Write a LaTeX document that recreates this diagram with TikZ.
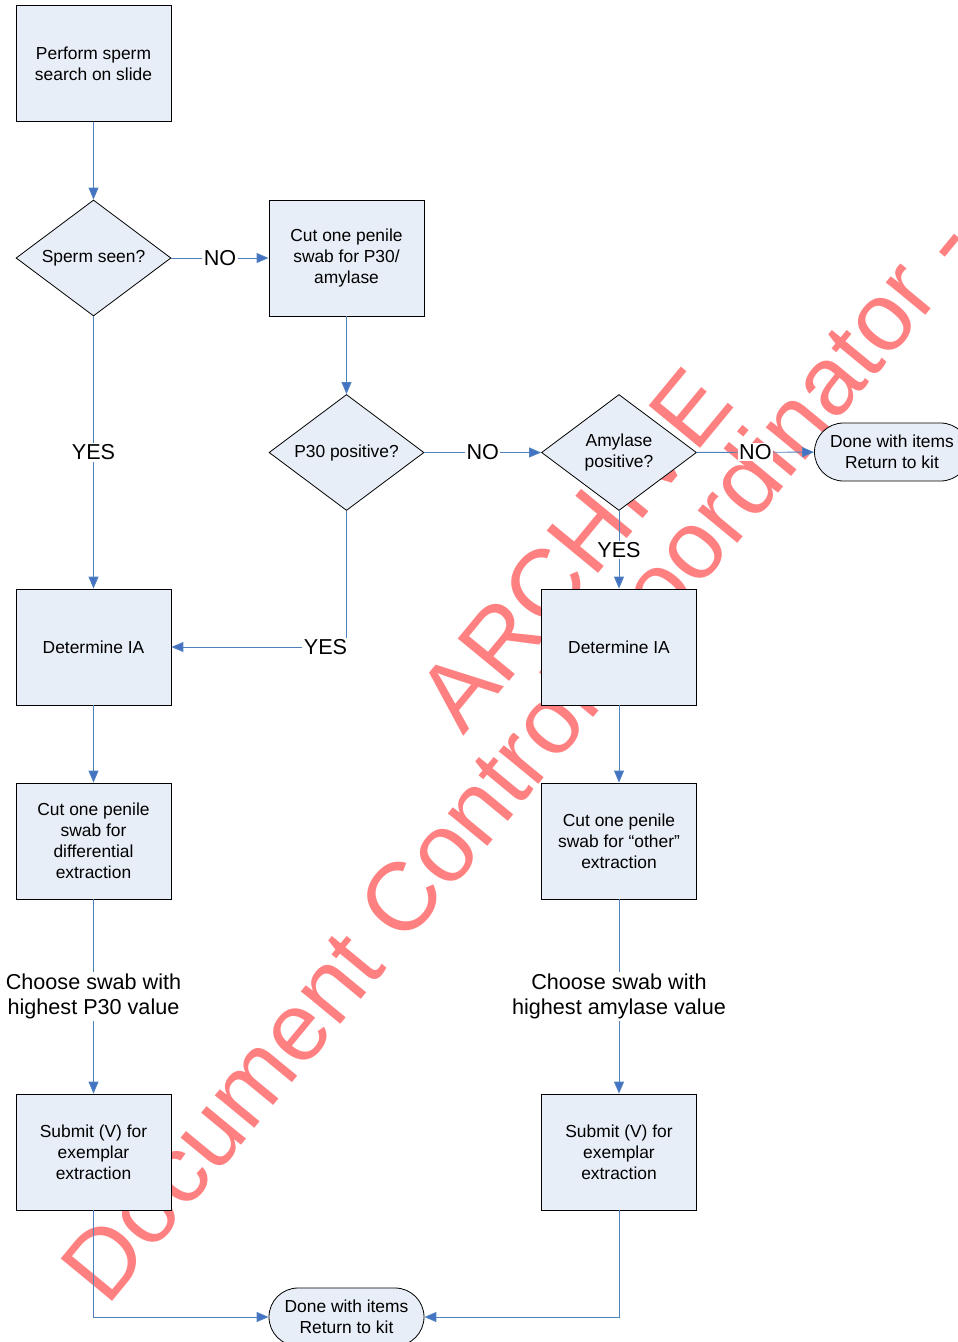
\documentclass[tikz,border=0pt]{standalone}
\usepackage{fontspec}
\setmainfont{Liberation Sans}
\usetikzlibrary{shapes.geometric,arrows.meta}
\definecolor{boxfill}{RGB}{232,238,247}
\definecolor{linkblue}{RGB}{79,129,189}
\definecolor{tipblue}{RGB}{68,114,196}
\definecolor{wmred}{RGB}{255,128,128}
\tikzset{
  boxtext/.style={font=\fontsize{17.4}{21}\selectfont, align=center},
  proc/.style={boxtext, draw=black, line width=0.8pt, fill=boxfill,
    minimum width=155pt, minimum height=116pt, inner sep=2pt},
  decide/.style={boxtext, diamond, aspect=1.336, draw=black, line width=0.8pt,
    fill=boxfill, minimum width=155pt, minimum height=116pt, inner sep=0pt},
  term/.style={boxtext, draw=black, line width=0.8pt, fill=boxfill,
    rounded corners=29pt, minimum width=155pt, minimum height=58pt, inner sep=0pt},
  link/.style={draw=linkblue, line width=0.9pt,
    -{Triangle[length=12pt,width=10pt,fill=tipblue]}},
  tag/.style={fill=white, inner sep=1.5pt, align=center,
    font=\fontsize{21.6}{25}\selectfont},
  wmark/.style={text=wmred, font=\fontsize{96.8}{97}\selectfont, rotate=50.5,
    anchor=base west, inner sep=0pt},
}
\begin{document}
\begin{tikzpicture}[x=1pt, y=-1pt]
\useasboundingbox (0,0) rectangle (958,1342);

% watermark behind the chart
\node[wmark] (wm1) at (107,1308) {Document Control Coordinator -};
\node[wmark] (wm2) at (463,737) {ARCHIVE};

% process boxes and decisions
\node[proc] (start) at (93.5,63.5) {Perform sperm\\search on slide};
\node[decide] (sperm) at (93.5,258) {Sperm seen?};
\node[proc] (cutp30) at (346.5,258) {Cut one penile\\swab for P30/\\amylase};
\node[decide] (p30) at (346.5,452.5) {P30 positive?};
\node[decide] (amy) at (619,452.5) {Amylase\\positive?};
\node[term] (doneR) at (892,452) {Done with items\\Return to kit};
\node[proc] (detL) at (93.5,647) {Determine IA};
\node[proc] (detR) at (619,647) {Determine IA};
\node[proc] (cutL) at (93.5,841) {Cut one penile\\swab for\\differential\\extraction};
\node[proc] (cutR) at (619,841) {Cut one penile\\swab for “other”\\extraction};
\node[proc] (subL) at (93.5,1152) {Submit (V) for\\exemplar\\extraction};
\node[proc] (subR) at (619,1152) {Submit (V) for\\exemplar\\extraction};
\node[term] (doneB) at (346.5,1317) {Done with items\\Return to kit};

% connectors
\draw[link] (start) -- (sperm);
\draw[link] (sperm) -- node[tag] {NO} (cutp30);
\draw[link] (cutp30) -- (p30);
\draw[link] (sperm) -- node[tag] {YES} (detL);
\draw[link] (p30.south) |- node[tag, pos=0.56] {YES} (detL.east);
\draw[link] (p30) -- node[tag] {NO} (amy);
\draw[link] (amy) -- node[tag] {NO} (doneR);
\draw[link] (amy) -- node[tag] {YES} (detR);
\draw[link] (detL) -- (cutL);
\draw[link] (detR) -- (cutR);
\draw[link] (cutL) -- node[tag] {Choose swab with\\highest P30 value} (subL);
\draw[link] (cutR) -- node[tag] {Choose swab with\\highest amylase value} (subR);
\draw[link] (subL.south) |- (doneB.west);
\draw[link] (subR.south) |- (doneB.east);
\end{tikzpicture}
\end{document}
